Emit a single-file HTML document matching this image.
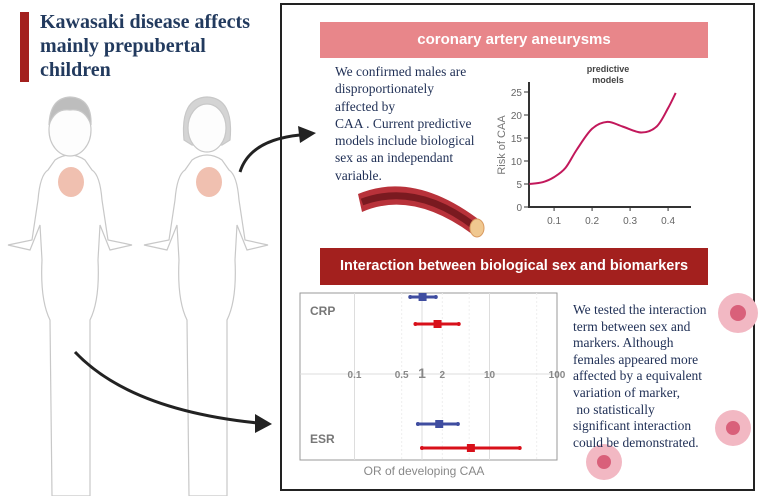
<!DOCTYPE html>
<html><head><meta charset="utf-8"><style>
body{margin:0;width:758px;height:496px;background:#fff;position:relative;overflow:hidden;font-family:"Liberation Sans",sans-serif}
.abs{position:absolute}
.serif{font-family:"Liberation Serif",serif;color:#1f2f55;white-space:nowrap}
</style></head><body>
<svg class="abs" style="left:0;top:0" width="758" height="496">
<g fill="#fff" stroke="#c8c8c8" stroke-width="1.2">
<path d="M55,160 Q70,150 85,160 L92,170 Q100,175 102,200 L108,240 L132,245 L110,250 L100,225 L98,260 Q100,300 90,320 L90,496 L52,496 L50,320 Q40,300 42,260 L40,225 L30,250 L8,245 L32,240 L38,200 Q40,175 48,170 Z"/>
<ellipse cx="70" cy="130" rx="21" ry="26" fill="#fdfdfd"/>
<path d="M49,125 Q50,98 70,97 Q92,98 91,125 Q85,108 70,110 Q55,108 49,125Z" fill="#bdbdbd"/>
</g>
<g fill="#fff" stroke="#c8c8c8" stroke-width="1.2">
<path d="M192,160 Q207,150 222,160 L229,170 Q237,175 239,200 L245,240 L268,245 L247,250 L237,225 L235,260 Q237,300 227,320 L227,496 L189,496 L187,320 Q177,300 179,260 L177,225 L167,250 L144,245 L169,240 L175,200 Q177,175 185,170 Z"/>
<path d="M184,140 Q180,98 207,97 Q234,98 230,140 L222,145 L192,145Z" fill="#d4d4d4"/>
<ellipse cx="207" cy="128" rx="19" ry="24" fill="#fdfdfd"/>
</g>
<ellipse cx="71" cy="182" rx="13" ry="15" fill="#e9a58f" opacity="0.7"/>
<ellipse cx="209" cy="182" rx="13" ry="15" fill="#e9a58f" opacity="0.7"/>
<path d="M240,172 Q250,140 300,135" fill="none" stroke="#222" stroke-width="3"/>
<polygon points="298,126 316,133 300,143" fill="#222"/>
<path d="M75,352 Q130,410 258,423" fill="none" stroke="#222" stroke-width="3"/>
<polygon points="255,414 272,424 255,433" fill="#222"/>
<rect x="281" y="4" width="473" height="486" fill="none" stroke="#222" stroke-width="2"/>
<g>
<path d="M358,194 Q415,170 482,222 L472,234 Q412,190 362,212Z" fill="#b8323a"/>
<path d="M362,202 Q416,182 474,226" fill="none" stroke="#7a1a20" stroke-width="7"/>
<ellipse cx="477" cy="228" rx="7" ry="9" fill="#f0c890" stroke="#d99a60"/>
</g>
<circle cx="738" cy="313" r="20" fill="#f2b8c3"/><circle cx="738" cy="313" r="8" fill="#d9607a"/>
<circle cx="733" cy="428" r="18" fill="#f2b8c3"/><circle cx="733" cy="428" r="7" fill="#d9607a"/>
<circle cx="604" cy="462" r="18" fill="#f2b8c3"/><circle cx="604" cy="462" r="7" fill="#d9607a"/>
</svg>

<div class="abs" style="left:20px;top:12px;width:9px;height:70px;background:#a3201e"></div>
<div class="abs serif" style="left:40px;top:10px;font-size:20px;line-height:24px;font-weight:bold;color:#223a5e">Kawasaki disease affects<br>mainly prepubertal<br>children</div>

<div class="abs" style="left:320px;top:22px;width:388px;height:36px;background:#e8868a;color:#fff;font-weight:bold;font-size:15px;line-height:36px;text-align:center">coronary artery aneurysms</div>
<div class="abs serif" style="left:335px;top:63px;font-size:13.5px;line-height:17.3px">We confirmed males are<br>disproportionately<br>affected by<br>CAA . Current predictive<br>models include biological<br>sex as an independant<br>variable.</div>

<div class="abs" style="left:320px;top:248px;width:388px;height:37px;background:#a3201e;color:#fff;font-weight:bold;font-size:14.5px;line-height:37px;text-align:center">Interaction between biological sex and biomarkers</div>
<div class="abs serif" style="left:573px;top:302px;font-size:13.5px;line-height:16.6px">We tested the interaction<br>term between sex and<br>markers. Although<br>females appeared more<br>affected by a equivalent<br>variation of marker,<br>&nbsp;no statistically<br>significant interaction<br>could be demonstrated.</div>

<svg id="line" class="abs" style="left:0;top:0" width="758" height="496"></svg>
<svg id="forest" class="abs" style="left:0;top:0" width="758" height="496"></svg>

<script>
const riskX=[0.035,0.07,0.1,0.13,0.16,0.2,0.24,0.28,0.33,0.37,0.4,0.42];
const riskY=[5,5.4,6.5,8.5,12.5,17,18.5,17.5,16.2,17.5,21.5,24.8];
const xTicks=[0.1,0.2,0.3,0.4];
const yTicks=[0,5,10,15,20,25];
const fLabels=['CRP','ESR'];
const fMale=[[1.02,0.67,1.6],[1.8,0.87,3.4]];
const fFemale=[[1.7,0.8,3.5],[5.3,1.0,28]];
const orTicks=[0.1,0.5,1,2,10,100];

const NS='http://www.w3.org/2000/svg';
function mk(p,t,a){const e=document.createElementNS(NS,t);for(const k in a)e.setAttribute(k,a[k]);p.appendChild(e);return e;}
const L=document.getElementById('line');
const lx=v=>529+(v-0.034)/0.1*38, ly=v=>207-v*4.6;
let ax=mk(L,'path',{d:'M529,82 L529,207 L691,207',stroke:'#333','stroke-width':2,fill:'none'});

xTicks.forEach(t=>{let e=mk(L,'text',{x:lx(t),y:224,'font-size':10,fill:'#666','text-anchor':'middle'});e.textContent=t;

mk(L,'line',{x1:lx(t),x2:lx(t),y1:207,y2:211,stroke:'#333'});});
yTicks.forEach(t=>{let e=mk(L,'text',{x:522,y:ly(t)+4,'font-size':10,fill:'#666','text-anchor':'end'});e.textContent=t;

mk(L,'line',{x1:524,x2:529,y1:ly(t),y2:ly(t),stroke:'#333'});});
let yt=mk(L,'text',{transform:'translate(505,145) rotate(-90)','font-size':11,fill:'#777','text-anchor':'middle'});yt.textContent='Risk of CAA';

let tt=mk(L,'text',{x:608,y:72,'font-size':9,'font-weight':'bold',fill:'#444','text-anchor':'middle'});tt.innerHTML='<tspan x="608">predictive</tspan><tspan x="608" dy="11">models</tspan>';

const pts=riskX.map((v,i)=>[lx(v),ly(riskY[i])]);
let d='M'+pts[0];
for(let i=0;i<pts.length-1;i++){const p0=pts[i-1]||pts[i],p1=pts[i],p2=pts[i+1],p3=pts[i+2]||p2;
d+=` C${p1[0]+(p2[0]-p0[0])/6},${p1[1]+(p2[1]-p0[1])/6} ${p2[0]-(p3[0]-p1[0])/6},${p2[1]-(p3[1]-p1[1])/6} ${p2[0]},${p2[1]}`;}
let cv=mk(L,'path',{d,stroke:'#c2185b','stroke-width':2,fill:'none'});


const F=document.getElementById('forest');
const fx=v=>422+Math.log10(v)*67.5;
let bx=mk(F,'rect',{x:300,y:293,width:257,height:167,fill:'#fff',stroke:'#999'});

[0.1,1,10].forEach(t=>mk(F,'line',{x1:fx(t),x2:fx(t),y1:293,y2:460,stroke:'#ddd'}));
[0.5,2,5,50].forEach(t=>mk(F,'line',{x1:fx(t),x2:fx(t),y1:293,y2:460,stroke:'#eee','stroke-dasharray':'2,2'}));
mk(F,'line',{x1:300,x2:557,y1:374,y2:374,stroke:'#ddd'});
orTicks.forEach(t=>{let e=mk(F,'text',{x:fx(t),y:378,'font-size':t==1?14:10,'font-weight':'bold',fill:'#888','text-anchor':'middle'});e.textContent=t;
});
const rowY=[[297,324],[424,448]], labY=[315,443];
fLabels.forEach((lab,i)=>{let e=mk(F,'text',{x:310,y:labY[i],'font-size':12,'font-weight':'bold',fill:'#777'});e.textContent=lab;

[[fMale[i],'#3f4da0',rowY[i][0]],[fFemale[i],'#d8101a',rowY[i][1]]].forEach(([r,c,y])=>{
 let g=mk(F,'g',{});
 mk(g,'line',{x1:fx(r[1]),x2:fx(r[2]),y1:y,y2:y,stroke:c,'stroke-width':3});
 mk(g,'circle',{cx:fx(r[1]),cy:y,r:2,fill:c});mk(g,'circle',{cx:fx(r[2]),cy:y,r:2,fill:c});
 mk(g,'rect',{x:fx(r[0])-4,y:y-4,width:8,height:8,fill:c});});});
let xt=mk(F,'text',{x:424,y:475,'font-size':12,fill:'#888','text-anchor':'middle'});xt.textContent='OR of developing CAA';

</script>
</body></html>
